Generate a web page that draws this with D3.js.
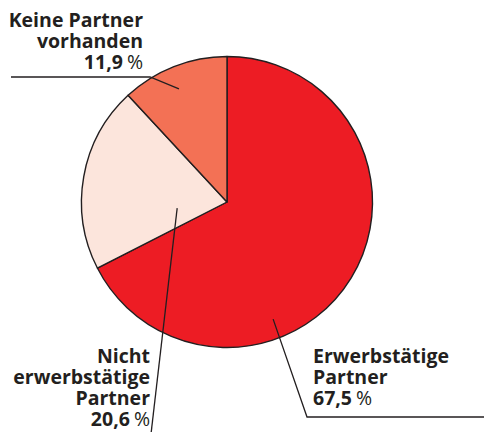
<!DOCTYPE html>
<html><head><meta charset="utf-8">
<script src="https://cdn.jsdelivr.net/npm/d3@7"></script>
<style>
html,body{margin:0;padding:0;background:#fff;}
text{font-family:"Open Sans",sans-serif;fill:#231F20;}
</style></head>
<body><svg id="c" width="484" height="432"></svg>
<script>
const categories = ["Erwerbstätige Partner", "Nicht erwerbstätige Partner", "Keine Partner vorhanden"];
const values = [67.5, 20.6, 11.9];
const labelLines = [["Erwerbstätige", "Partner"], ["Nicht", "erwerbstätige", "Partner"], ["Keine Partner", "vorhanden"]];
const colors = ["#ED1C24", "#FCE5DC", "#F37155"];

const svg = d3.select("#c");
const cx = 227, cy = 202, R = 145.5;
const g = svg.append("g").attr("transform", `translate(${cx},${cy})`);
const pie = d3.pie().sort(null).value(d => d)(values);
const arc = d3.arc().innerRadius(0).outerRadius(R);
g.selectAll("path").data(pie).join("path")
  .attr("d", arc).attr("fill", (d, i) => colors[i])
  .attr("stroke", "#231F20").attr("stroke-width", 1.4).attr("stroke-linejoin", "round");

const fmt = v => d3.format(".1f")(v).replace(".", ",");
const FS = 19.5, LH = 21;
const layout = [
  {ang: 158.5, rf: 0.865, pts: [[307, 417], [484, 417]], x: 313, y: 363, anchor: "start"},
  {ang: 263, rf: 0.345, pts: [[151, 434]], x: 150, y: 363, anchor: "end"},
  {ang: 337, rf: 0.845, pts: [[150, 77], [11, 77]], x: 143, y: 27, anchor: "end"}
];
const line = d3.line();
pie.forEach((d, i) => {
  const L = layout[i];
  const a = L.ang * Math.PI / 180;
  const start = [cx + Math.sin(a) * R * L.rf, cy - Math.cos(a) * R * L.rf];
  svg.append("path").attr("d", line([start, ...L.pts]))
    .attr("fill", "none").attr("stroke", "#231F20").attr("stroke-width", 1.3);
  const lines = labelLines[i];
  lines.forEach((s, j) => {
    svg.append("text").attr("text-anchor", L.anchor).attr("font-size", FS)
      .attr("font-weight", 700).attr("x", L.x).attr("y", L.y + j * LH).text(s);
  });
  const yl = L.y + lines.length * LH;
  const gap = 4;
  if (L.anchor === "end") {
    const pct = svg.append("text").attr("text-anchor", "end").attr("font-size", FS)
      .attr("font-weight", 400).attr("x", L.x).attr("y", yl).text("%");
    const w = pct.node().getComputedTextLength();
    svg.append("text").attr("text-anchor", "end").attr("font-size", FS)
      .attr("font-weight", 700).attr("x", L.x - w - gap).attr("y", yl).text(fmt(d.data));
  } else {
    const num = svg.append("text").attr("text-anchor", "start").attr("font-size", FS)
      .attr("font-weight", 700).attr("x", L.x).attr("y", yl).text(fmt(d.data));
    const w = num.node().getComputedTextLength();
    svg.append("text").attr("text-anchor", "start").attr("font-size", FS)
      .attr("font-weight", 400).attr("x", L.x + w + gap).attr("y", yl).text("%");
  }
});
</script></body></html>
